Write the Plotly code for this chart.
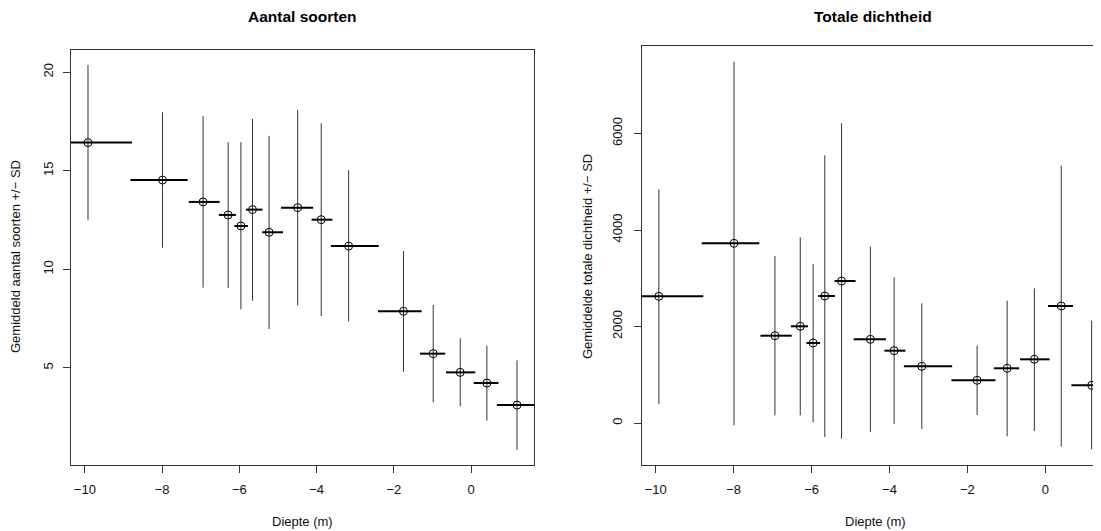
import plotly.graph_objects as go

# Depth groups (m)
depth = [-9.92, -7.99, -6.94, -6.29, -5.96, -5.66, -5.23, -4.49, -3.88, -3.17, -1.75, -0.98, -0.28, 0.41, 1.19]
depth_lo = [-11.06, -8.82, -7.31, -6.53, -6.13, -5.83, -5.41, -4.92, -4.13, -3.63, -2.41, -1.32, -0.65, 0.07, 0.67]
depth_hi = [-8.78, -7.34, -6.51, -6.09, -5.78, -5.40, -4.87, -4.09, -3.59, -2.39, -1.28, -0.67, 0.11, 0.71, 1.71]

# Aantal soorten: mean, mean-SD, mean+SD
soort_mean = [16.43, 14.53, 13.42, 12.76, 12.20, 13.03, 11.88, 13.13, 12.52, 11.18, 7.87, 5.72, 4.77, 4.23, 3.11]
soort_lo = [12.49, 11.10, 9.07, 9.05, 7.97, 8.41, 6.97, 8.17, 7.63, 7.36, 4.80, 3.25, 3.05, 2.32, 0.84]
soort_hi = [20.37, 17.97, 17.77, 16.45, 16.45, 17.64, 16.77, 18.09, 17.41, 15.03, 10.93, 8.19, 6.50, 6.12, 5.38]

# Totale dichtheid: mean, mean-SD, mean+SD
dicht_mean = [2626, 3724, 1810, 2004, 1658, 2632, 2943, 1735, 1499, 1175, 885, 1134, 1320, 2425, 781]
dicht_lo = [394, -48, 159, 159, 14, -290, -325, -187, -21, -124, 166, -276, -166, -491, -546]
dicht_hi = [4843, 7488, 3461, 3848, 3295, 5548, 6211, 3654, 3019, 2481, 1602, 2535, 2792, 5333, 2121]

x_ticks = [-10, -8, -6, -4, -2, 0]
soort_ticks = [5, 10, 15, 20]
dicht_ticks = [0, 2000, 4000, 6000]

FONT = "Liberation Sans, Arial, sans-serif"
INK = "#000000"

fig = go.Figure()


def add_panel(mean, lo, hi, xa, ya):
    vx, vy, hx, hy = [], [], [], []
    for d, m, l, h, a, b in zip(depth, mean, lo, hi, depth_lo, depth_hi):
        vx += [d, d, None]
        vy += [l, h, None]
        hx += [a, b, None]
        hy += [m, m, None]
    fig.add_trace(go.Scatter(x=vx, y=vy, mode="lines", line=dict(color="#333333", width=1),
                             xaxis=xa, yaxis=ya, hoverinfo="skip", showlegend=False))
    fig.add_trace(go.Scatter(x=hx, y=hy, mode="lines", line=dict(color=INK, width=2),
                             xaxis=xa, yaxis=ya, hoverinfo="skip", showlegend=False))
    fig.add_trace(go.Scatter(x=depth, y=mean, mode="markers",
                             marker=dict(symbol="circle-open", size=8, color=INK, line=dict(width=1)),
                             xaxis=xa, yaxis=ya, showlegend=False))


add_panel(soort_mean, soort_lo, soort_hi, "x", "y")
add_panel(dicht_mean, dicht_lo, dicht_hi, "x2", "y2")

# page body has an 8px margin; figure is placed at (8, 8) in the window
OFF = 8
W, H = 1101 - OFF, 531 - OFF


def px(x):
    return (x - OFF) / W


def py(y):
    return 1 - (y - OFF) / H


axis_common = dict(showgrid=False, zeroline=False, ticks="outside", ticklen=7, tickwidth=1,
                   tickcolor="#333333", linecolor="#333333", linewidth=1, showline=True,
                   tickfont=dict(family=FONT, size=13, color="#111111"))

fig.update_layout(
    width=W, height=H, margin=dict(l=0, r=0, t=0, b=0),
    paper_bgcolor="white", plot_bgcolor="white",
    xaxis=dict(domain=[px(71), px(534)], range=[-10.36, 1.63], tickvals=x_ticks, mirror=True,
               anchor="y", ticklabelstandoff=5, **axis_common),
    yaxis=dict(domain=[py(465), py(50)], range=[0.07, 21.13], tickvals=soort_ticks,
               tickangle=-90, mirror=True, anchor="x", ticklabelstandoff=5, **axis_common),
    xaxis2=dict(domain=[px(641.7), 1.0], range=[-10.36, 1.43], tickvals=x_ticks, mirror=True,
                anchor="y2", ticklabelstandoff=5, **axis_common),
    yaxis2=dict(domain=[py(465), py(46)], range=[-870, 7813], tickvals=dicht_ticks,
                tickangle=-90, mirror=False, anchor="x2", ticklabelstandoff=7, **axis_common),
)

ann_font = dict(family=FONT, size=13, color="#111111")
title_font = dict(family=FONT, size=15.5, color="#000000")
fig.add_annotation(text="<b>Aantal soorten</b>", x=px(302.5), y=py(17), xref="paper", yref="paper",
                   showarrow=False, font=title_font, xanchor="center", yanchor="middle")
fig.add_annotation(text="<b>Totale dichtheid</b>", x=px(873), y=py(17), xref="paper", yref="paper",
                   showarrow=False, font=title_font, xanchor="center", yanchor="middle")
fig.add_annotation(text="Diepte (m)", x=px(302.5), y=py(521), xref="paper", yref="paper",
                   showarrow=False, font=ann_font, xanchor="center", yanchor="middle")
fig.add_annotation(text="Diepte (m)", x=px(875), y=py(521), xref="paper", yref="paper",
                   showarrow=False, font=ann_font, xanchor="center", yanchor="middle")
fig.add_annotation(text="Gemiddeld aantal soorten +/\u2212 SD", x=px(15), y=py(257), xref="paper",
                   yref="paper", showarrow=False, font=ann_font, textangle=-90,
                   xanchor="center", yanchor="middle")
fig.add_annotation(text="Gemiddelde totale dichtheid +/\u2212 SD", x=px(587), y=py(257), xref="paper",
                   yref="paper", showarrow=False, font=ann_font, textangle=-90,
                   xanchor="center", yanchor="middle")

fig.write_html("out.html")
